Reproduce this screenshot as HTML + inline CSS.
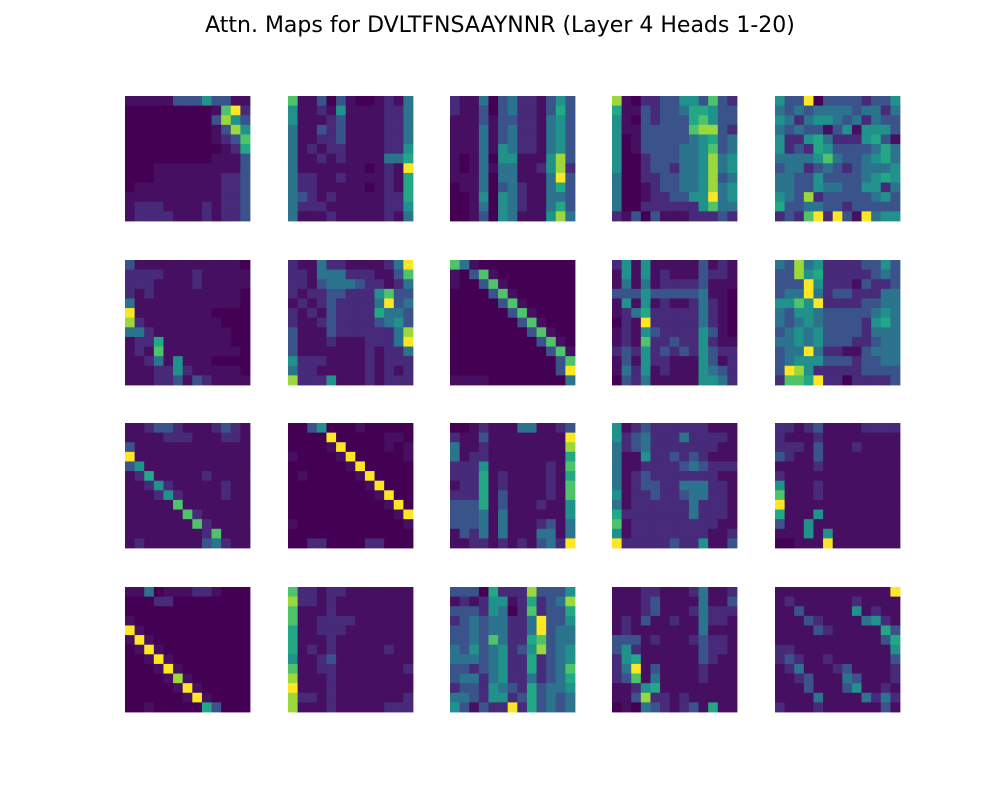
<!DOCTYPE html>
<html><head><meta charset="utf-8">
<style>
body{margin:0;background:#fff;width:1000px;height:800px;overflow:hidden;font-family:"DejaVu Sans","Liberation Sans",sans-serif;}
#title{position:absolute;top:13px;left:0;width:1000px;text-align:center;font-size:22px;color:#000;}
svg{position:absolute;left:0;top:0;}
</style></head>
<body>
<div id="title">Attn. Maps for DVLTFNSAAYNNR (Layer 4 Heads 1-20)</div>
<svg id="chart" width="1000" height="800"></svg>
<script>
const tokens = ["D","V","L","T","F","N","S","A","A","Y","N","N","R"];
const heads = [
["1111133353311","0000000001792","0000000003853","0000000001385","0000000001237","0000000000126","0000000001113","0001111111113","0001111111223","0111111111223","1111111111223","1222111121223","1222211121223"],
["7113031001214","5112151111224","5111231111224","4113231111224","4112231111224","4121221111225","4112121111446","4111111101219","4221121111216","4221111101216","4321211111226","4222111111225","4111211111214"],
["2114034221353","2113034221363","1113133221453","1114134221453","1114134221453","1114154221453","1014055111583","1014144112582","1114044111493","0114034211463","0015054211443","0014054211463","0013054111584"],
["8102233553732","6113233466533","5103233367533","5113333378832","5013333345634","5013333445734","5002333445845","5002332445845","4002233445834","4001233445845","4001223355945","4002222225744","2130311122232"],
["5339033332335","4343444434424","5424554342433","4343313515553","5225642225631","5232653333464","4444574334564","3442343234445","4433533334565","4433544335524","5438233333453","6334433233333","2327929319455"],
["3111111111110","2222111211111","2221111211111","2121111111110","4111111111110","9111111110000","8211111111000","4421111111100","1226111111100","1217111111110","1124151110000","1112252111110","1112231321111"],
["2114221111249","2214442221137","2213444322124","2122332225733","1212322224934","2121322226443","2112322223453","3111322222248","3111211122249","3111111121224","5222111121222","4221111121212","8222511121222"],
["7410000000000","1037100000000","1003710000000","0000371000000","0000037100000","0000003710000","0000000371000","0000000037100","0000000003710","0000000000371","0000000000037","0000000000039","1111000000004"],
["2515111113121","1515121113221","1414122223111","3335333334110","1515121124210","1246222224210","0219222224210","1215322225310","1217223225211","2325232325322","1315221115312","1425121115432","0324111115542"],
["4384522223353","3385622222343","3339522213223","3449423322244","5575922223344","4355433333454","4345433332564","3454533332444","4454533322344","3449422113444","3455533323344","3985222223333","2776922022223"],
["1123321112321","1111222111221","3111111111111","9111111111111","3511111111111","1261111121111","1125211111211","1112521111211","1111171111111","1111117211111","1111111721111","1111111127111","1211111134211"],
["0035000100000","0000900000110","0000190000101","1000019000001","0000001900000","0100000190000","0000000019000","0000000001900","0000000000190","0000000000019","1000000000001","0000000000000","0022000022000"],
["0012111441123","2113111111119","4112111111118","4122111111116","2225111111217","2226121111216","1226121111217","2226131111217","3336131112115","3334141111115","3334141112314","1324141114414","1122121213429"],
["5123222222111","5234222422221","4234222222211","4115223232111","4112222343222","4123222222211","4123322444221","5122322344221","4122222242221","6222222242221","7122222222211","5122222222112","9222223225113"],
["2212311112222","2111211111111","2221311121111","3211311111111","1111211111111","2111111111111","5111211111111","7111211111111","9111111111111","6111511111111","3115111111111","1115151111111","0011191111111"],
["1140111221000","0002200000000","0000000000000","1000000000000","9100000000000","1910000000000","0191000000000","0019100000000","0001910000000","0000181000000","0000019100000","0000001910000","0010000063000"],
["7221221111111","8221211111111","7111211111111","7112222111111","6112221111111","6111211111111","6121211111211","5112311111111","7112211111112","8111211111111","9111211111111","8221211111112","8111211111222"],
["3330622283335","1212551262348","3332540272336","2343442249335","3343442249344","3343742267344","4353452358345","4443452262345","3323452262347","3442452242346","2332543263445","4432552363434","5313229263434"],
["1112211124112","1112311114113","1112311124222","1213112114221","1211111114111","3331211123221","3521111113221","2561111113211","2491311112111","2371411112111","1125611111111","1138221211111","0104321231611"],
["1111111111119","1211111121111","1131111151211","1113211114521","1111321111163","1111111111136","2211111111115","2321121111113","1241112311112","1123111431112","1113111351121","1111411114242","2111211111131"]
];
const levelT=[0,0.04,0.12,0.26,0.38,0.5,0.6,0.72,0.85,1];
const viridis=[[68,1,84],[72,36,117],[65,68,135],[53,95,141],[42,120,142],[33,145,140],[34,168,132],[68,191,112],[122,209,81],[189,223,38],[253,231,37]];
function color(v){const t=levelT[v]*10;const i=Math.min(9,Math.floor(t)),f=t-i;
const a=viridis[i],b=viridis[i+1];return `rgb(${a.map((c,k)=>Math.round(c+(b[k]-c)*f)).join(',')})`;}
const colX=[125,288,450,612,775], rowY=[96,260,423,587], size=125;
const svg=document.getElementById('chart');const NS='http://www.w3.org/2000/svg';
heads.forEach((m,h)=>{
  const g=document.createElementNS(NS,'g');
  
  
  const x0=colX[h%5], y0=rowY[Math.floor(h/5)], n=m.length, cs=size/n;
  m.forEach((row,r)=>{[...row].forEach((ch,c)=>{
    const rc=document.createElementNS(NS,'rect');
    rc.setAttribute('x',x0+c*cs);rc.setAttribute('y',y0+r*cs);
    rc.setAttribute('width',cs+0.4);rc.setAttribute('height',cs+0.4);
    rc.setAttribute('fill',color(+ch));
    
    
    g.appendChild(rc);});});
  svg.appendChild(g);
});
</script>
</body></html>
